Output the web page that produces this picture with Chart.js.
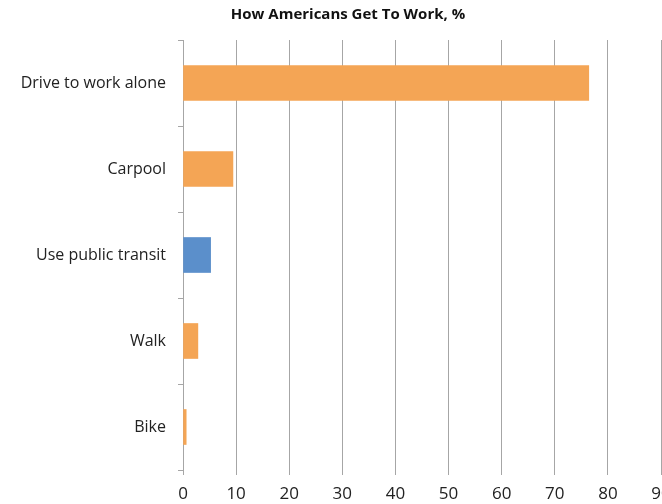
<!DOCTYPE html>
<html>
<head>
<meta charset="utf-8">
<script src="https://cdn.jsdelivr.net/npm/chart.js"></script>
<style>
  html, body { margin: 0; padding: 0; background: #fff; overflow: hidden; }
</style>
</head>
<body>
<canvas id="barChart" width="696" height="504"></canvas>
<script>
  // data
  var categories = ["Drive to work alone", "Carpool", "Use public transit", "Walk", "Bike"];
  var shares = [76.4, 9.4, 5.2, 2.8, 0.6];
  var barColors = ["#F4A555", "#F4A555", "#5B8FCB", "#F4A555", "#F4A555"];
  var xTicks = [0, 10, 20, 30, 40, 50, 60, 70, 80, 90];

  var ctx = document.getElementById("barChart").getContext('2d');
  var myBarChart = new Chart(ctx, {
    type: 'bar',
    data: {
      labels: categories,
      datasets: [{
        data: shares,
        backgroundColor: barColors,
        borderWidth: 0,
        barThickness: 35
      }]
    },
    options: {
      indexAxis: 'y',
      responsive: false,
      animation: false,
      plugins: {
        legend: { display: false },
        tooltip: { enabled: false },
        title: {
          display: true,
          text: "How Americans Get To Work, %",
          color: "#111",
          font: { family: "Open Sans", size: 15, weight: 'bold' },
          padding: { top: 6, bottom: 16 }
        }
      },
      scales: {
        x: {
          min: 0,
          max: 90,
          afterBuildTicks: function (axis) {
            axis.ticks = xTicks.map(function (v) { return { value: v }; });
          },
          afterFit: function (axis) { axis.height = 34; },
          grid: {
            color: "#A6A6A6",
            lineWidth: 1,
            tickLength: 5,
            drawTicks: true
          },
          border: { display: false },
          ticks: {
            color: "#222",
            font: { family: "Open Sans", size: 17 },
            padding: 9,
            maxRotation: 0
          }
        },
        y: {
          afterFit: function (axis) { axis.width = 183; },
          grid: {
            drawOnChartArea: false,
            color: "#A6A6A6",
            tickLength: 5
          },
          border: { display: true, color: "#A6A6A6", width: 1 },
          ticks: {
            color: "#222",
            font: { family: "Open Sans", size: 16 },
            padding: 12
          }
        },
        // empty strip on the right so the plot ends at the window edge
        spacer: {
          type: 'linear',
          position: 'right',
          afterFit: function (axis) { axis.width = 35; },
          grid: { display: false },
          border: { display: false },
          ticks: { display: false }
        }
      }
    }
  });
</script>
</body>
</html>
